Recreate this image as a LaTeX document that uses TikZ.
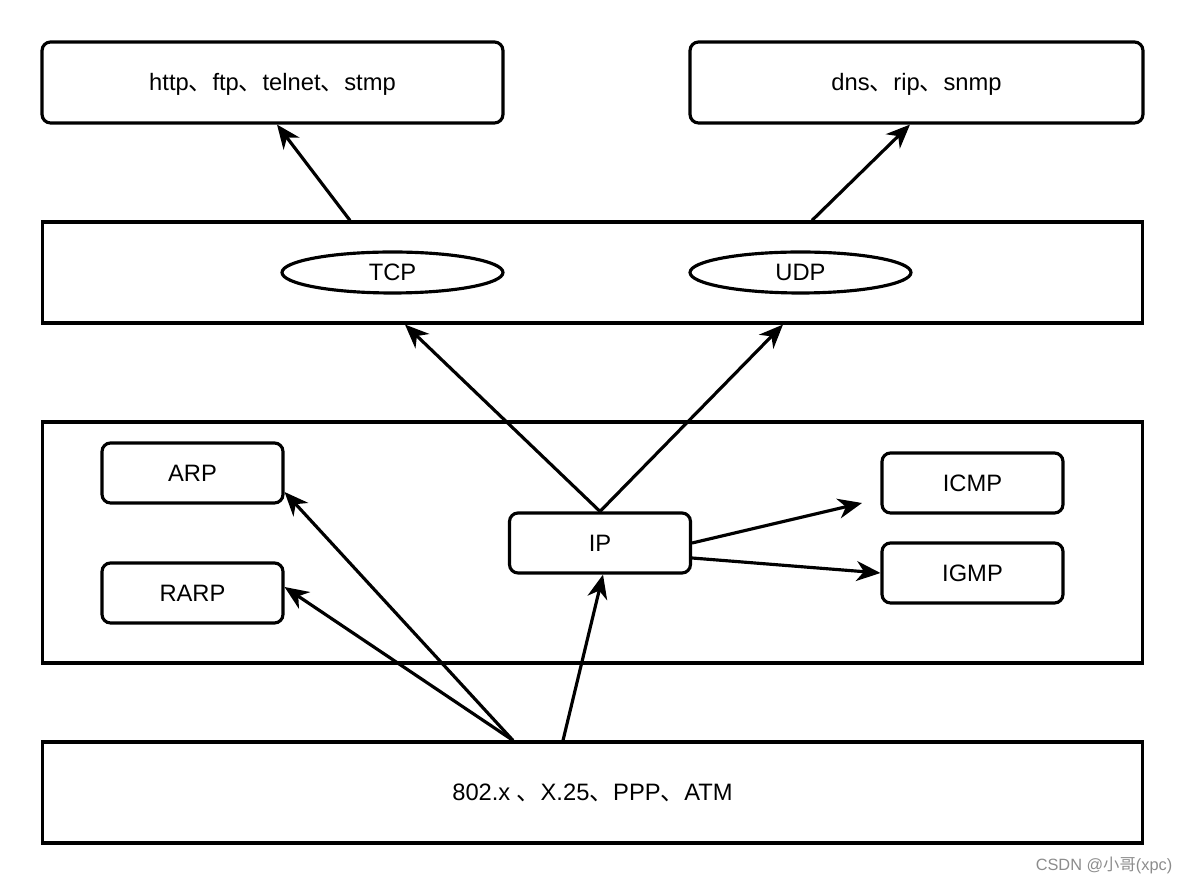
\documentclass[tikz,border=0pt]{standalone}
\usepackage{fontspec}
\setmainfont{Liberation Sans}
\newfontfamily\cjk{Noto Sans CJK SC}
\usetikzlibrary{arrows.meta}
\usetikzlibrary{shapes.geometric}
\tikzset{>={Stealth[length=4.8mm,width=4mm,inset=1.5mm]}}
\tikzset{
    layer/.style={draw, line width=1.8pt, minimum width=22.02cm, minimum height=2.02cm, inner sep=0},
    app/.style={draw, line width=1.8pt, rounded corners=0.17cm, minimum height=1.62cm, inner sep=0},
    flat/.style={text height=9.6pt, text depth=0pt},
    proto/.style={draw, line width=1.8pt, rounded corners=0.17cm, minimum width=3.62cm, minimum height=1.2cm, inner sep=0},
    port/.style={draw, ellipse, line width=1.8pt, minimum width=4.42cm, minimum height=0.82cm, inner sep=0},
    link/.style={->, line width=1.8pt},
}
\newcommand{\dun}{{\cjk 、}}

\begin{document}
\begin{tikzpicture}[x=0.02cm, y=-0.02cm, font=\fontsize{13.5}{16}\selectfont]
		\useasboundingbox (0,0) rectangle (1184,884);
		\node[app, flat, minimum width=9.22cm] (apptcp) at (272.5,82.5) {http\dun ftp\dun telnet\dun stmp};
		\node[app, flat, minimum width=9.06cm] (appudp) at (916.5,82.5) {dns\dun rip\dun snmp};
		\node[layer] (trans) at (592.5,272.5) {};
		\node[port] (tcp) at (392.5,272.5) {TCP};
		\node[port] (udp) at (800.5,272.5) {UDP};
		\node[layer, minimum height=4.82cm] (net) at (592.5,542.5) {};
		\node[proto] (arp) at (192.5,473) {ARP};
		\node[proto] (rarp) at (192.5,593) {RARP};
		\node[proto] (ip) at (600,543) {IP};
		\node[proto] (icmp) at (972.5,483) {ICMP};
		\node[proto] (igmp) at (972.5,573) {IGMP};
		\node[layer, flat] (phy) at (592.5,792.5) {802.x \dun X.25\dun PPP\dun ATM};
		\coordinate (icmpin) at (862,503);
		\draw[link] (trans.north -| 350,0) -- (apptcp.south -| 277,0);
		\draw[link] (trans.north -| 812,0) -- (appudp.south -| 910,0);
		\draw[link] (ip.north) -- (trans.south -| 405,0);
		\draw[link] (ip.north) -- (trans.south -| 783,0);
		\draw[link] (ip.east) -- (icmpin);
		\draw[link] (ip.east |- 0,558) -- (igmp.west);
		\draw[link] (phy.north -| 513,0) -- (arp.east |- 0,492);
		\draw[link] (phy.north -| 513,0) -- (rarp.east |- 0,587);
		\draw[link] (phy.north -| 563,0) -- (ip.south -| 603,0);
		\node[text=black!45, font=\fontsize{9.3}{11}\selectfont] (mark) at (1104,865) {CSDN @{\cjk 小哥}(xpc)};
	\end{tikzpicture}
\end{document}
